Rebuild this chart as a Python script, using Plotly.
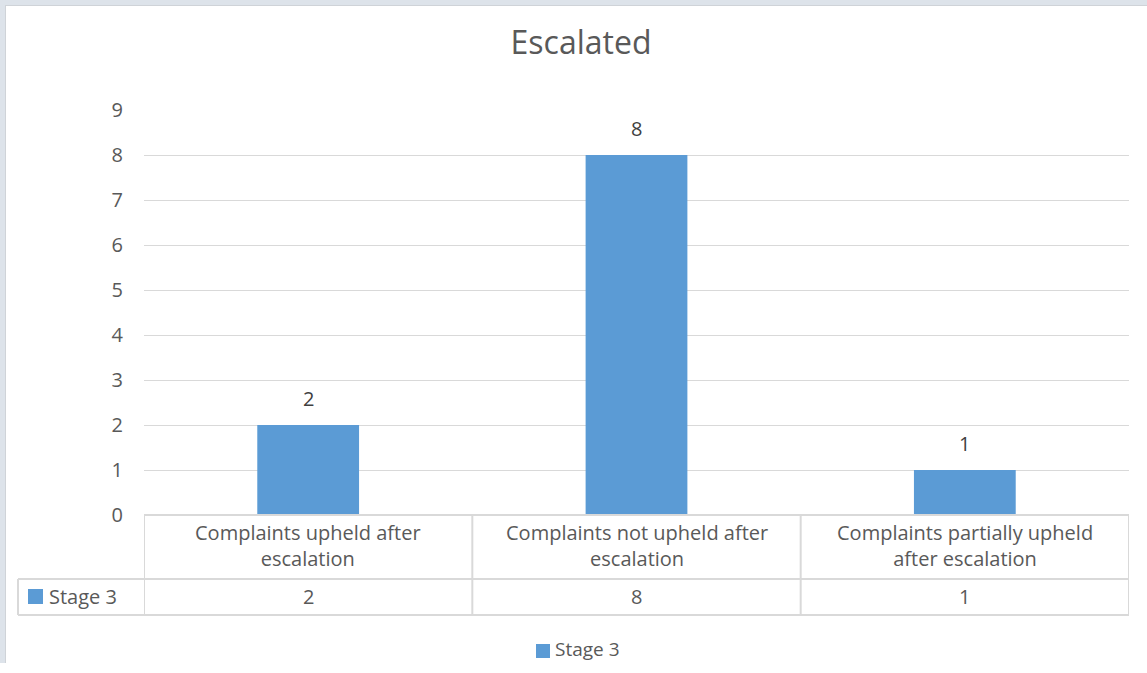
import plotly.graph_objects as go

# Chart data
categories = [
    "Complaints upheld after<br>escalation",
    "Complaints not upheld after<br>escalation",
    "Complaints partially upheld<br>after escalation",
]
series_name = "Stage 3"
stage3_values = [2, 8, 1]
y_ticks = [0, 1, 2, 3, 4, 5, 6, 7, 8, 9]

BAR_COLOR = "#5b9bd5"
TEXT_COLOR = "#595959"
LABEL_COLOR = "#404040"
GRID_COLOR = "#d9d9d9"
FONT = "Open Sans, Noto Sans, sans-serif"
FS = 20

W, H = 1147, 663
M_L, M_R, M_T = 144, 18, 110
ZERO_PX = 515
M_B = H - ZERO_PX
PLOT_W = W - M_L - M_R
PLOT_H = H - M_T - M_B


def px_to_paper_x(px):
    return (px - M_L) / PLOT_W


def px_to_paper_y(py):
    return (ZERO_PX - py) / PLOT_H


x_idx = list(range(len(categories)))

fig = go.Figure()
fig.add_trace(go.Bar(
    x=x_idx,
    y=stage3_values,
    name=series_name,
    marker=dict(color=BAR_COLOR, line=dict(width=0)),
    width=0.31,
    showlegend=False,
))

shapes = []
annotations = []

# value labels above the bars
for i, v in enumerate(stage3_values):
    annotations.append(dict(xref="x", yref="y", x=i, y=v, text=str(v),
                            showarrow=False, xanchor="center", yanchor="middle",
                            yshift=27,
                            font=dict(size=FS, color=LABEL_COLOR, family=FONT)))

# Outer frame strips (top and left)
shapes.append(dict(type="rect", xref="paper", yref="paper",
                   x0=px_to_paper_x(0), x1=px_to_paper_x(W),
                   y0=px_to_paper_y(0), y1=px_to_paper_y(5),
                   fillcolor="#dde3ea", line=dict(width=0), layer="below"))
shapes.append(dict(type="line", xref="paper", yref="paper",
                   x0=px_to_paper_x(5), x1=px_to_paper_x(W),
                   y0=px_to_paper_y(5.5), y1=px_to_paper_y(5.5),
                   line=dict(color="#cfd3d8", width=1), layer="below"))
shapes.append(dict(type="rect", xref="paper", yref="paper",
                   x0=px_to_paper_x(0), x1=px_to_paper_x(5),
                   y0=px_to_paper_y(H), y1=px_to_paper_y(0),
                   fillcolor="#dde3ea", line=dict(width=0), layer="below"))
shapes.append(dict(type="line", xref="paper", yref="paper",
                   x0=px_to_paper_x(5.5), x1=px_to_paper_x(5.5),
                   y0=px_to_paper_y(H), y1=px_to_paper_y(5),
                   line=dict(color="#cfd3d8", width=1), layer="below"))

# Data table below the plot
tbl_line = dict(color=GRID_COLOR, width=2)
row1_bottom = px_to_paper_y(579)
row2_bottom = px_to_paper_y(615)
left_edge = px_to_paper_x(18)

shapes.append(dict(type="line", xref="paper", yref="paper", x0=0, x1=1,
                   y0=0, y1=0, line=tbl_line))
shapes.append(dict(type="line", xref="paper", yref="paper", x0=left_edge, x1=1,
                   y0=row1_bottom, y1=row1_bottom, line=tbl_line))
shapes.append(dict(type="line", xref="paper", yref="paper", x0=left_edge, x1=1,
                   y0=row2_bottom, y1=row2_bottom, line=tbl_line))
shapes.append(dict(type="line", xref="paper", yref="paper", x0=left_edge, x1=left_edge,
                   y0=row2_bottom, y1=row1_bottom, line=tbl_line))
for i in range(len(categories) + 1):
    xb = i - 0.5
    shapes.append(dict(type="line", xref="x", yref="paper", x0=xb, x1=xb,
                       y0=row2_bottom, y1=0, line=tbl_line))

# series key inside the table row
shapes.append(dict(type="rect", xref="paper", yref="paper",
                   x0=px_to_paper_x(28), x1=px_to_paper_x(43),
                   y0=px_to_paper_y(604), y1=px_to_paper_y(589),
                   fillcolor=BAR_COLOR, line=dict(width=0)))
annotations.append(dict(xref="paper", yref="paper", x=px_to_paper_x(47),
                        y=px_to_paper_y(596), text=series_name, showarrow=False,
                        xanchor="left", yanchor="middle",
                        font=dict(size=FS, color=TEXT_COLOR, family=FONT)))

for i, cat in enumerate(categories):
    annotations.append(dict(xref="x", yref="paper", x=i, y=px_to_paper_y(545),
                            text=cat, showarrow=False, xanchor="center",
                            yanchor="middle", align="center",
                            font=dict(size=FS, color=TEXT_COLOR, family=FONT)))
    annotations.append(dict(xref="x", yref="paper", x=i, y=px_to_paper_y(596),
                            text=str(stage3_values[i]), showarrow=False,
                            xanchor="center", yanchor="middle",
                            font=dict(size=FS, color=TEXT_COLOR, family=FONT)))

# legend below the table
shapes.append(dict(type="rect", xref="paper", yref="paper",
                   x0=px_to_paper_x(536), x1=px_to_paper_x(550),
                   y0=px_to_paper_y(658), y1=px_to_paper_y(644),
                   fillcolor=BAR_COLOR, line=dict(width=0)))
annotations.append(dict(xref="paper", yref="paper", x=px_to_paper_x(554),
                        y=px_to_paper_y(649), text=series_name, showarrow=False,
                        xanchor="left", yanchor="middle", borderpad=0,
                        font=dict(size=FS - 1, color=TEXT_COLOR, family=FONT)))

fig.update_layout(
    width=W, height=H,
    margin=dict(l=M_L, r=M_R, t=M_T, b=M_B),
    paper_bgcolor="white",
    plot_bgcolor="white",
    title=dict(text="Escalated", x=581 / W,
               xanchor="center", y=1 - 43 / H, yanchor="middle",
               font=dict(size=32, color=TEXT_COLOR, family=FONT)),
    xaxis=dict(range=[-0.5, len(categories) - 0.5], showticklabels=False,
               showgrid=False, zeroline=False, showline=False, ticks=""),
    yaxis=dict(range=[0, 9], tickvals=y_ticks, showgrid=True,
               gridcolor=GRID_COLOR, gridwidth=1, zeroline=False,
               showline=False, ticks="outside", ticklen=16, tickcolor="white",
               tickfont=dict(size=FS, color=TEXT_COLOR, family=FONT)),
    showlegend=False,
    shapes=shapes,
    annotations=annotations,
)

fig.write_html("out.html")
